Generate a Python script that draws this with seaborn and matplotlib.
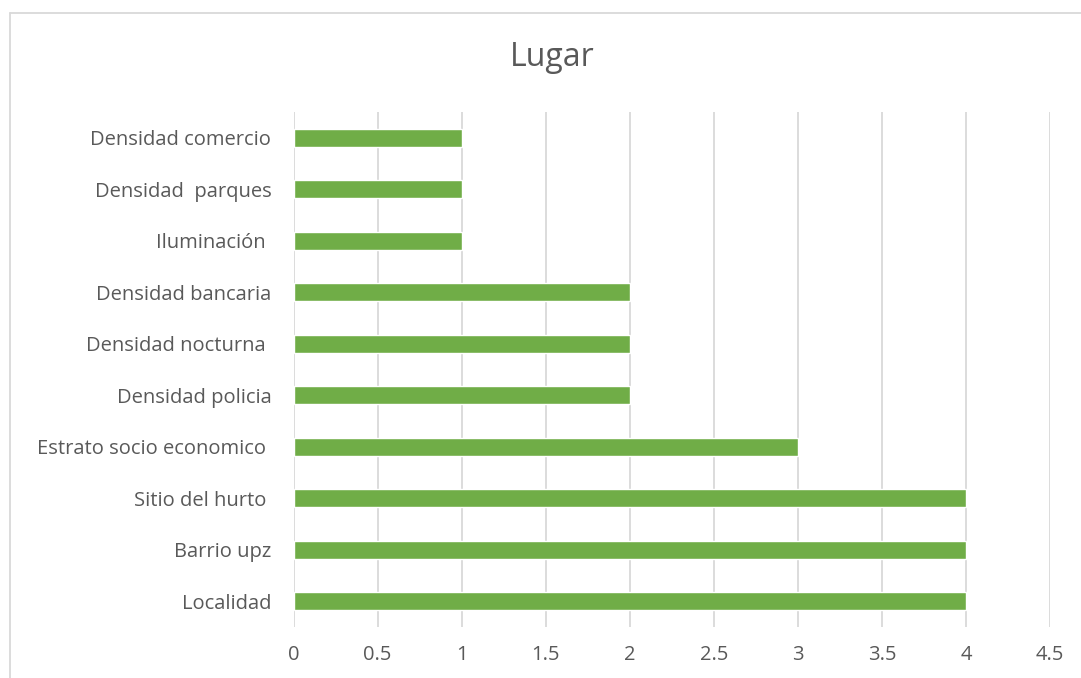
import matplotlib
matplotlib.use("Agg")
import matplotlib.pyplot as plt
import pandas as pd
import seaborn as sns
from matplotlib.lines import Line2D

# data, top to bottom as in the chart
categories = [
    "Densidad comercio",
    "Densidad  parques",
    "Iluminación ",
    "Densidad bancaria",
    "Densidad nocturna ",
    "Densidad policia",
    "Estrato socio economico ",
    "Sitio del hurto ",
    "Barrio upz",
    "Localidad",
]
values = [1, 1, 1, 2, 2, 2, 3, 4, 4, 4]
x_ticks = [0, 0.5, 1, 1.5, 2, 2.5, 3, 3.5, 4, 4.5]

BAR_COLOR = "#70AD47"
TEXT_COLOR = "#595959"
GRID_COLOR = "#D9D9D9"

df = pd.DataFrame({"factor": categories, "n": values})

sns.set_theme(style="white")
plt.rcParams["font.family"] = ["Open Sans", "DejaVu Sans"]

W, H = 1081, 678
fig = plt.figure(figsize=(W / 100, H / 100), dpi=100)
ax = fig.add_axes([293.5 / W, 1 - 627 / H, (1050 - 293.5) / W, (627 - 112) / H])

sns.barplot(data=df, x="n", y="factor", order=categories, color=BAR_COLOR,
            width=0.35, saturation=1, ax=ax, zorder=3)

ax.set_xlim(0, 4.5)
ax.set_ylim(len(categories) - 0.5, -0.5)
ax.set_xticks(x_ticks)
ax.set_xticklabels([f"{t:g}" for t in x_ticks])
ax.xaxis.grid(True, color=GRID_COLOR, linewidth=1.3, zorder=0)
ax.yaxis.grid(False)
for s in ax.spines.values():
    s.set_visible(False)
ax.tick_params(axis="x", length=0, pad=13, labelsize=14.5, labelcolor=TEXT_COLOR)
ax.tick_params(axis="y", length=0, pad=16, labelsize=14.5, labelcolor=TEXT_COLOR)
ax.set_xlabel("")
ax.set_ylabel("")

fig.text(552 / W, 1 - 57 / H, "Lugar", ha="center", va="center",
         fontsize=23, color=TEXT_COLOR)

# chart frame (top and left edges visible in the crop)
fig.add_artist(Line2D([10 / W, 1], [1 - 13 / H, 1 - 13 / H],
                      transform=fig.transFigure, color=GRID_COLOR, linewidth=1.3))
fig.add_artist(Line2D([10 / W, 10 / W], [0, 1 - 13 / H],
                      transform=fig.transFigure, color=GRID_COLOR, linewidth=1.3))

fig.savefig("out.png", dpi=100, facecolor="white")
